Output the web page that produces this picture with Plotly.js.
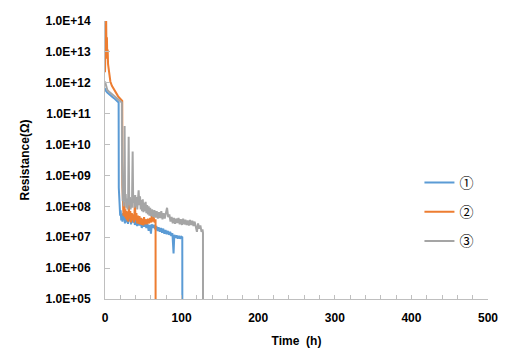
<!DOCTYPE html>
<html>
<head>
<meta charset="utf-8">
<script src="https://cdn.plot.ly/plotly-3.0.1.min.js"></script>
<style>html,body{margin:0;padding:0;background:#fff;}#chart{width:514px;height:360px;}</style>
</head>
<body>
<div id="chart"></div>
<script>
const seriesNames = ["①", "②", "③"];

const t1 = [0,1,3,5,7,10,13,16,17.8,18.0,18.4,18.8,19.2,19.8,20.5,21.2,22,22.8,23.6,24.4,25.2,26,27,28,29,30,31,32,33,34,35,36,37.5,39,40.5,42,43.5,45,46.5,48,49.5,51,52.5,54,55.5,57,58.5,60,61,62.5,64,65.5,67,68.5,70,71.5,73,74.5,76,77.5,79,80.5,82,83.5,85,86.5,88,89.5,90.5,92,93.5,95,96.5,98,99.5,100.9,101];
const r1 = [6.6e11,5.6e11,4.8e11,4.3e11,4.0e11,3.4e11,3.0e11,2.6e11,2.3e11,4e8,1.5e8,3e8,7e7,5e7,7.5e7,3.5e7,5.5e7,3.2e7,6e7,3.8e7,5e7,2.8e7,4.8e7,3e7,4.5e7,2.7e7,4.2e7,3.3e7,4.6e7,2.6e7,4e7,3e7,4.3e7,2.5e7,3.6e7,2.3e7,3.5e7,2.4e7,3.2e7,2e7,3e7,2.2e7,2.9e7,2e7,2.7e7,1.6e7,2.5e7,1.3e7,2.6e7,2e7,2.5e7,1.8e7,2.3e7,1.6e7,2.1e7,1.5e7,2e7,1.4e7,1.9e7,1.3e7,1.7e7,1.25e7,1.6e7,1.2e7,1.5e7,1.1e7,1.35e7,3e6,1.2e7,0.95e7,1.15e7,0.9e7,1.1e7,0.9e7,1.05e7,1.0e7,1e3];

const t2 = [0,0.5,1,1.5,2,2.5,3,3.5,4,5,6,7,9,11,13,15,17,19,21,22.5,22.7,23.1,23.6,24.1,24.7,25.3,25.9,26.6,27.3,28,28.8,29.6,30.4,31.2,32,33,34,35,36,37,38,39,40,41,42,43,44,45,46,47,48,49,50,51,52,53,54.5,56,57.5,59,60.5,61.4,62.3,63.5,64.8,66,66.1];
const r2 = [2.2e12,1.5e13,5e12,1.2e14,8e12,3e13,6e12,1.2e13,4e12,2.2e12,1.5e12,1.1e12,8e11,6.5e11,5.2e11,4.3e11,3.7e11,3.2e11,2.9e11,2.6e11,5e8,8e7,1.3e8,5e7,9e7,1.4e8,4.5e7,8e7,4e7,7e7,3.5e7,6.5e7,3.2e7,1.1e8,4e7,7e7,3e7,6e7,3.5e7,5.5e7,3e7,1.3e8,3.5e7,6e7,2.8e7,5e7,2.7e7,4.8e7,2.6e7,4.2e7,2.5e7,4e7,2.4e7,4.5e7,2.6e7,3.8e7,2.6e7,4e7,2.8e7,4.2e7,3e7,7.5e7,3.2e7,4.5e7,3e7,3.8e7,1e3];

const t3 = [0,1,3,5,7,9,11,13,15,17,19,20.4,22,22.2,22.6,23.2,23.8,24.4,25,25.6,26.2,27,27.8,28.6,29.4,30.2,30.9,31.6,32.5,33.4,34.3,35.2,36.1,36.8,37.6,38.5,39.4,40.3,41.2,42.1,43,43.9,44.8,45.7,46.6,47.5,48.4,49.3,50.2,51.1,52,53,54,55,56,57,58,59,60,61.5,63,64.5,66,67.5,69,70.5,72,73.5,75,76.5,78,79.5,81,82.5,84,85.5,87,88.5,90,91.5,93,94.5,96,97.5,99,100.5,102,103.5,105,106.5,108,109.5,111,112.5,114,115.5,117,118.5,120,121.5,123,124.5,126,127.3,127.9,128];
const r3 = [1.1e12,8.5e11,5.8e11,5.2e11,4.7e11,4.2e11,3.8e11,3.4e11,3.1e11,2.8e11,2.6e11,2.4e11,2.3e11,3e9,3e8,1.5e8,3e8,1e8,2e8,4e10,1.5e8,2.5e8,9e7,1.8e8,8e7,1.5e8,1.8e10,1.1e8,2e8,8e7,1.6e8,9e7,6e9,1.3e8,2e8,9e7,2.3e8,1e8,2e8,8e7,2.6e8,3.3e8,1.1e8,2.1e8,8e7,1.6e8,7e7,1.7e8,6.5e7,1.3e8,7e7,1.4e8,6e7,1.1e8,5.5e7,1e8,5e7,9e7,4.8e7,8e7,4.5e7,7.5e7,4.3e7,7e7,4e7,6.5e7,4.2e7,7e7,3.8e7,6e7,4e7,6.5e7,9e7,4.5e7,5.5e7,3.2e7,4.5e7,2.8e7,4.2e7,2.7e7,4e7,2.9e7,4.2e7,2.6e7,3.8e7,2.5e7,4e7,2.6e7,3.7e7,2.5e7,3.5e7,2.4e7,3.6e7,2.5e7,3.4e7,2.3e7,3.2e7,2.2e7,1.5e7,2.8e7,1.9e7,2.4e7,1.5e7,1.8e7,1.4e7,1e3];

const yTickVals = [1e5,1e6,1e7,1e8,1e9,1e10,1e11,1e12,1e13,1e14];
const yTickText = ["1.0E+05","1.0E+06","1.0E+07","1.0E+08","1.0E+09","1.0E+10","1.0E+11","1.0E+12","1.0E+13","1.0E+14"];
const xTickVals = [0,100,200,300,400,500];
const colors = ["#5B9BD5", "#ED7D31", "#A5A5A5"];

const times = [t1, t2, t3];
const vals = [r1, r2, r3];
const traces = times.map((t, i) => ({
  x: t, y: vals[i], type: "scatter", mode: "lines", name: seriesNames[i],
  legendgroup: "g" + i,
  line: {color: colors[i], width: 2}
}));

const bold = {family: "Liberation Sans, Arial, sans-serif", size: 12, color: "#000", weight: "bold"};

const layout = {
  width: 514, height: 360,
  margin: {l: 105, r: 26, t: 21, b: 61},
  paper_bgcolor: "#fff", plot_bgcolor: "#fff",
  showlegend: true,
  legend: {x: 0.821, y: 0.313, xanchor: "left", yanchor: "middle", tracegroupgap: 8,
    font: {family: "Noto Sans CJK JP, DejaVu Sans, sans-serif", size: 14, color: "#000"},
    itemwidth: 30, bgcolor: "rgba(0,0,0,0)"},
  xaxis: {
    range: [0, 500], tickvals: xTickVals, ticktext: xTickVals.map(String),
    showgrid: false, zeroline: false, showline: true, linecolor: "#BFBFBF", linewidth: 1,
    ticks: "inside", ticklen: 4, tickcolor: "#BFBFBF",
    minor: {dtick: 20, ticks: "inside", ticklen: 4, tickcolor: "#BFBFBF"},
    tickfont: bold, ticklabelstandoff: 8,
    title: {text: "Time  (h)", font: bold, standoff: 12}
  },
  yaxis: {
    type: "log", range: [5, 14], tickvals: yTickVals, ticktext: yTickText,
    showgrid: false, zeroline: false, showline: true, linecolor: "#BFBFBF", linewidth: 1,
    ticks: "inside", ticklen: 5, tickcolor: "#BFBFBF",
    tickfont: bold, ticklabelstandoff: 11,
    title: {text: "Resistance(Ω)", font: bold, standoff: 13}
  }
};

Plotly.newPlot("chart", traces, layout, {displayModeBar: false, staticPlot: true});
</script>
</body>
</html>
